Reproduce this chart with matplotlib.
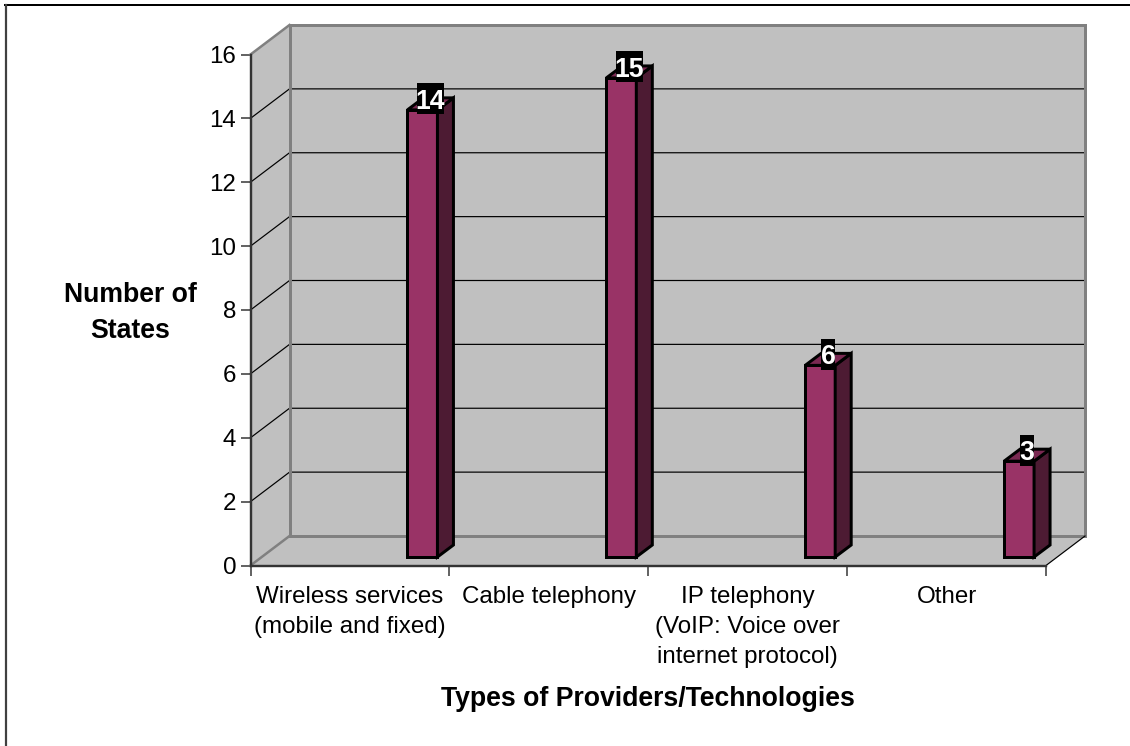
import matplotlib
matplotlib.use("Agg")
import matplotlib.pyplot as plt
from matplotlib.lines import Line2D
from matplotlib.patches import Polygon, Rectangle

plt.rcParams['font.family'] = ['Liberation Sans', 'DejaVu Sans']

categories = ["Wireless services\n(mobile and fixed)", "Cable telephony",
              "IP telephony\n(VoIP: Voice over\ninternet protocol)", "Other"]
states = [14, 15, 6, 3]
y_ticks = [0, 2, 4, 6, 8, 10, 12, 14, 16]

W, H = 1130, 746
px = 1 / 100 * 72  # one pixel in points

fig = plt.figure(figsize=(W / 100, H / 100), dpi=100, facecolor="white")
left, right, bottom, top = 250.5, 1046, 565.5, 54.5
ax = fig.add_axes([left / W, 1 - bottom / H, (right - left) / W, (bottom - top) / H])
ax.set_xlim(-0.5, 3.5)
ax.set_ylim(0, 16)
ax.set_facecolor("none")

# pixel sizes in data units
ux = 4 / (right - left)
uy = 16 / (bottom - top)

# depth of the box and of the bars
box_dx, box_dy = 39 * ux, 29.5 * uy
bar_dx, bar_dy = 16 * ux, 12 * uy
bar_lift = 8.5 * uy
bar_shift = 57.5 * ux  # bars sit right of the category centre
bar_w = 30 * ux

wall = "#C0C0C0"
wall_edge = "#808080"
axis_color = "#333333"
tick_size = 17.4
title_size = 19.2
xl, xr = -0.5, 3.5


def box_line(xs, ys, color, lw, z=2):
    ax.add_line(Line2D(xs, ys, color=color, lw=lw * px, clip_on=False, zorder=z,
                       solid_capstyle="projecting"))


# back wall, side wall and floor
ax.add_patch(Polygon([(xl + box_dx, box_dy), (xr + box_dx, box_dy),
                      (xr + box_dx, 16 + box_dy), (xl + box_dx, 16 + box_dy)],
                     fc=wall, ec="none", clip_on=False, zorder=1))
ax.add_patch(Polygon([(xl, 0), (xl + box_dx, box_dy), (xl + box_dx, 16 + box_dy), (xl, 16)],
                     fc=wall, ec="none", clip_on=False, zorder=1))
ax.add_patch(Polygon([(xl, 0), (xr, 0), (xr + box_dx, box_dy), (xl + box_dx, box_dy)],
                     fc=wall, ec="none", clip_on=False, zorder=1))

# gridlines run along the side wall and then the back wall
for v in y_ticks[1:-1]:
    box_line([xl, xl + box_dx, xr + box_dx], [v, v + box_dy, v + box_dy], "black", 1.2)

box_line([xl, xl + box_dx], [0, box_dy], wall_edge, 2.5)
box_line([xl, xl + box_dx], [16, 16 + box_dy], wall_edge, 2.5)
box_line([xl + box_dx, xl + box_dx], [box_dy, 16 + box_dy], wall_edge, 3)
box_line([xl + box_dx, xr + box_dx], [box_dy, box_dy], wall_edge, 3)
box_line([xl + box_dx, xr + box_dx], [16 + box_dy, 16 + box_dy], wall_edge, 3)
box_line([xr + box_dx, xr + box_dx], [box_dy, 16 + box_dy], wall_edge, 3)
box_line([xr, xr + box_dx], [0, box_dy], "black", 1.2)

# bars
positions = [i + bar_shift for i in range(len(states))]
ax.bar(positions, states, width=bar_w, bottom=bar_lift, align="edge", color="#993366",
       edgecolor="black", linewidth=3 * px, clip_on=False, zorder=5)
for x, v in zip(positions, states):
    t = v + bar_lift
    b = bar_lift
    ax.add_patch(Polygon([(x + bar_w, b), (x + bar_w + bar_dx, b + bar_dy),
                          (x + bar_w + bar_dx, t + bar_dy), (x + bar_w, t)],
                         fc="#4D1B33", ec="black", lw=3 * px, clip_on=False,
                         zorder=5, joinstyle="miter"))
    ax.add_patch(Polygon([(x, t), (x + bar_w, t), (x + bar_w + bar_dx, t + bar_dy),
                          (x + bar_dx, t + bar_dy)],
                         fc="#7A2952", ec="black", lw=3 * px, clip_on=False,
                         zorder=5, joinstyle="miter"))

    # value label on a black box
    cx = x + (bar_w + bar_dx) / 2
    cy = t + bar_dy - 1 * uy
    box_w = len(str(v)) * 13.4 * ux
    box_h = 31 * uy
    ax.add_patch(Rectangle((cx - box_w / 2, cy - box_h / 2), box_w, box_h, fc="black",
                           ec="none", clip_on=False, zorder=9))
    ax.text(cx, cy, str(v), color="white", fontsize=title_size, fontweight="bold",
            ha="center", va="center_baseline", clip_on=False, zorder=10)

# axes
for side in ["top", "right"]:
    ax.spines[side].set_visible(False)
for side in ["left", "bottom"]:
    ax.spines[side].set_color(axis_color)
    ax.spines[side].set_linewidth(2.4 * px)
    ax.spines[side].set_zorder(3)

ax.set_yticks(y_ticks)
ax.tick_params(axis="y", length=10 * px, width=1.5 * px, color=axis_color,
               labelsize=tick_size, pad=3)
ax.set_xticks(range(len(categories)))
ax.set_xticklabels(categories, linespacing=1.46)
ax.set_xticks([-0.5, 0.5, 1.5, 2.5, 3.5], minor=True)
ax.tick_params(axis="x", which="major", length=0, labelsize=tick_size, pad=15)
ax.tick_params(axis="x", which="minor", length=10 * px, width=1.5 * px, color=axis_color)

ax.set_xlabel("Types of Providers/Technologies", fontsize=title_size, fontweight="bold")
ax.xaxis.set_label_coords(0.5, -0.236)
ax.set_ylabel("Number of\nStates", fontsize=title_size, fontweight="bold", rotation=0,
              ha="center", va="center", linespacing=1.46)
ax.yaxis.set_label_coords((130 - left) / (right - left), (bottom - 313) / (bottom - top))

# outer frame: only the top and left edges
fig.add_artist(Line2D([5 / W, 1], [1 - 4.5 / H, 1 - 4.5 / H], color="black", lw=2 * px))
fig.add_artist(Line2D([6 / W, 6 / W], [0, 1 - 4.5 / H], color="#404040", lw=2.2 * px))

fig.savefig("out.png", dpi=100)
